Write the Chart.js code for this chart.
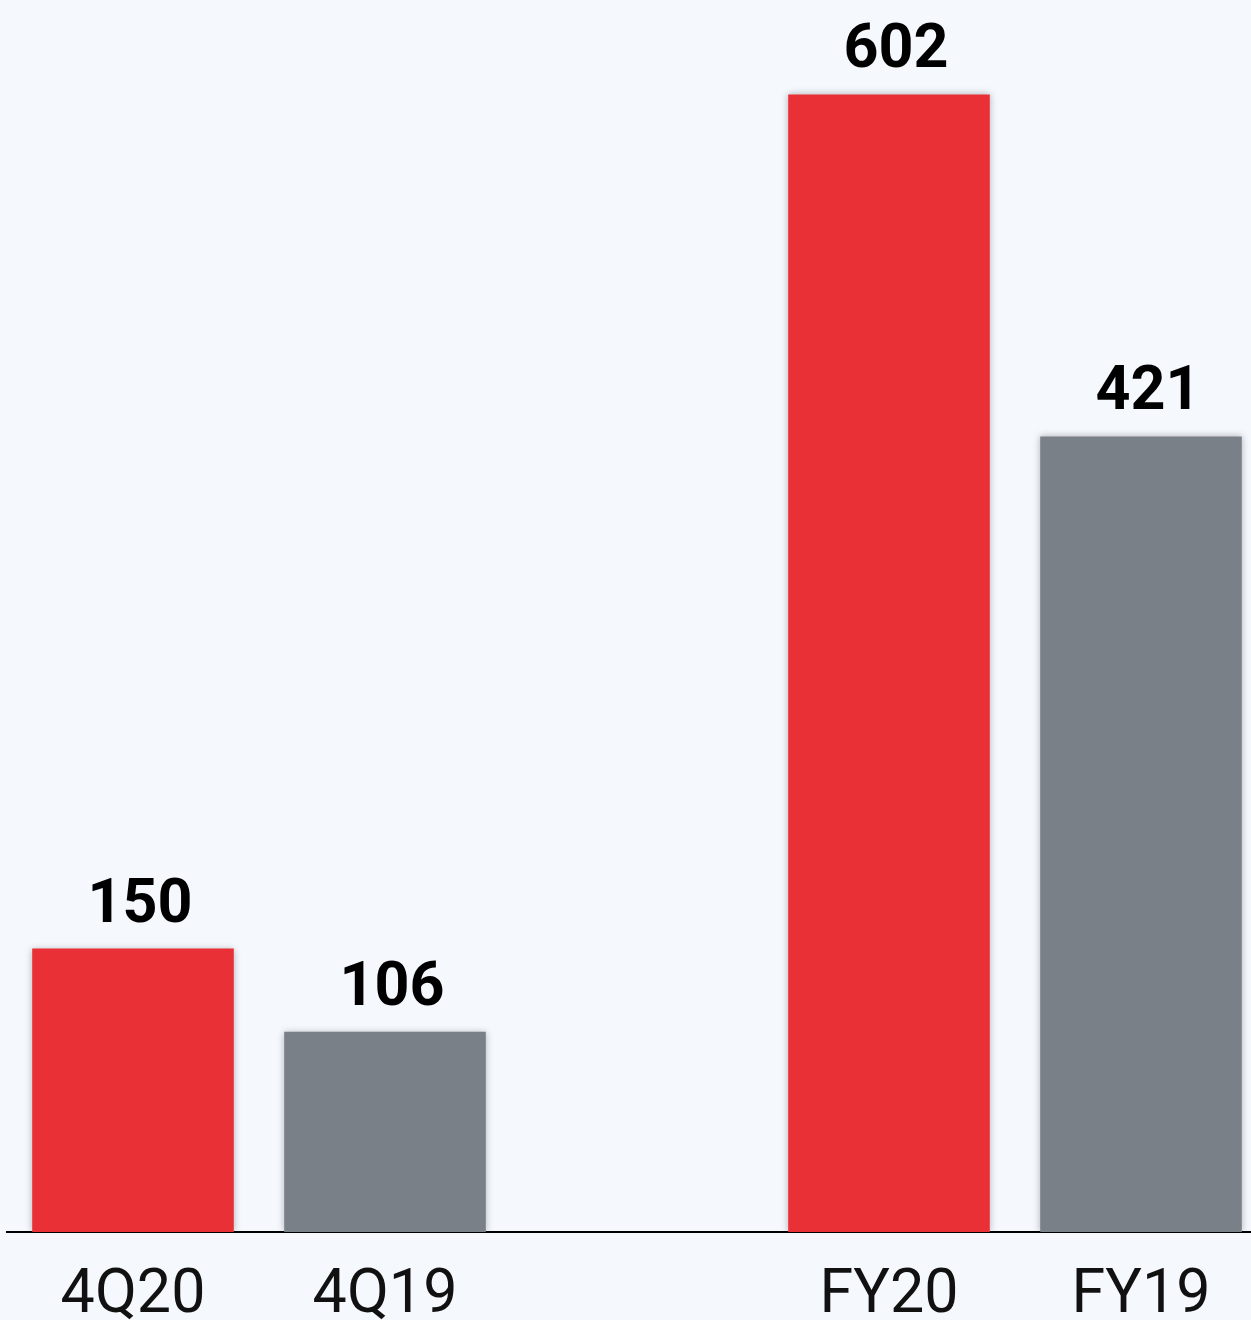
<!DOCTYPE html>
<html>
<head>
<meta charset="utf-8">
<script src="https://cdn.jsdelivr.net/npm/chart.js@4.4.1/dist/chart.umd.min.js"></script>
<style>
  html, body { margin: 0; padding: 0; background: #f5f8fd; overflow: hidden; }
  #wrap { position: relative; width: 1280px; height: 1320px; }
</style>
</head>
<body>
<div id="wrap"><canvas id="salesChart"></canvas></div>
<script>
// ---------- Data ----------
const categories = ["4Q20", "4Q19", "", "FY20", "FY19"];
const values = [150, 106, null, 602, 421];
const barColors = ["#e93037", "#7a8087", "#7a8087", "#e93037", "#7a8087"];

// ---------- Plugins ----------
// soft shadow around the bars
const barShadow = {
  id: 'barShadow',
  beforeDatasetDraw(chart) {
    const c = chart.ctx;
    c.save();
    c.shadowColor = 'rgba(0,0,0,0.28)';
    c.shadowBlur = 7;
    c.shadowOffsetX = 0;
    c.shadowOffsetY = 0;
  },
  afterDatasetDraw(chart) {
    chart.ctx.restore();
  }
};

// value above each bar (slightly right of the bar centre)
const valueLabels = {
  id: 'valueLabels',
  afterDatasetsDraw(chart) {
    const c = chart.ctx;
    const meta = chart.getDatasetMeta(0);
    c.save();
    c.font = 'bold 61px Roboto';
    c.fillStyle = '#000';
    c.textAlign = 'center';
    c.textBaseline = 'alphabetic';
    meta.data.forEach((bar, i) => {
      if (values[i] == null) return;
      c.fillText(String(values[i]), bar.x + 7, bar.y - 27);
    });
    c.restore();
  }
};

// ---------- Chart ----------
const ctx = document.getElementById('salesChart').getContext('2d');
new Chart(ctx, {
  type: 'bar',
  data: {
    labels: categories,
    datasets: [{
      data: values,
      backgroundColor: barColors,
      borderWidth: 0,
      categoryPercentage: 0.8,
      barPercentage: 1.0
    }]
  },
  options: {
    responsive: true,
    maintainAspectRatio: false,
    animation: false,
    layout: { padding: { left: 7, right: 13, top: 0, bottom: 0 } },
    plugins: {
      legend: { display: false },
      tooltip: { enabled: false }
    },
    scales: {
      x: {
        grid: { display: false },
        border: { display: true, color: '#000', width: 2 },
        ticks: {
          color: '#111',
          font: { family: 'Roboto', size: 61, weight: '400' },
          padding: 20,
          maxRotation: 0,
          autoSkip: false
        },
        afterFit(scale) { scale.height = 88; }
      },
      y: {
        display: false,
        min: 0,
        max: 652
      }
    }
  },
  plugins: [barShadow, valueLabels]
});
</script>
</body>
</html>
